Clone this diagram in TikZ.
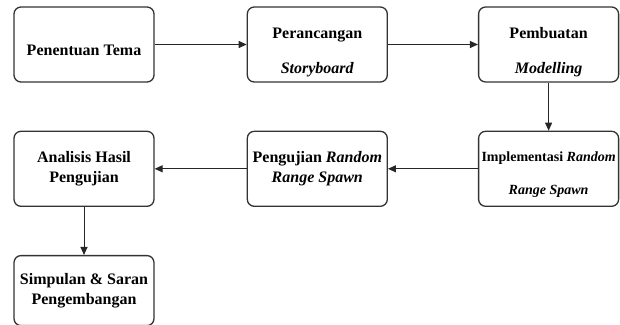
\documentclass[tikz,border=0pt]{standalone}
\usepackage{fontspec}
\setmainfont{Liberation Serif}
\usetikzlibrary{arrows.meta, positioning}

\begin{document}
\begin{tikzpicture}[-{Triangle[length=8pt,width=7pt]}, draw=black!85,
        line width=1pt,
        node distance = 48pt and 92pt,
        stage/.style = {rectangle, rounded corners=7pt, 
                        draw=black!80, line width=1.3pt,
                        minimum width=140pt, minimum height=75pt,
                        inner sep=1pt, align=center,
                        font=\bfseries\fontsize{16}{20}\selectfont},
         wide/.style = {stage, font=\bfseries\fontsize{16}{35}\selectfont,
                        text height=#1, text depth=3pt},
         wide/.default = 60pt
                        ]
\useasboundingbox (0,0) rectangle (620pt,-324pt);
% Draw the first row of stages
\node[stage, text height=24pt, text depth=3pt] 
      at (84pt,-44.5pt)          (tema)    {Penentuan Tema};
\node[wide, right=of tema]       (rancang) {Perancangan\\\textit{Storyboard}};
\node[wide, right=90pt of rancang] (buat)  {Pembuatan\\\textit{Modelling}};
% Draw the second row, going back to the left
\node[wide=54pt, below=of buat,
      font=\bfseries\fontsize{14}{33}\selectfont] (impl)
      {Implementasi \textit{Random}\\\textit{Range Spawn}};
\node[stage, left=90pt of impl]  (uji)      {Pengujian \textit{Random}\\\textit{Range Spawn}};
\node[stage, left=of uji]        (analisis) {Analisis Hasil\\Pengujian};
% Draw the last stage
\node[stage, below=of analisis,
      minimum height=70pt]       (simpulan) {Simpulan \& Saran\\Pengembangan};
% Connect the stages one after another
\foreach \a/\b in {tema/rancang, rancang/buat, buat/impl,
                   impl/uji, uji/analisis, analisis/simpulan}
    \draw (\a) -- (\b);
\end{tikzpicture}
\end{document}
